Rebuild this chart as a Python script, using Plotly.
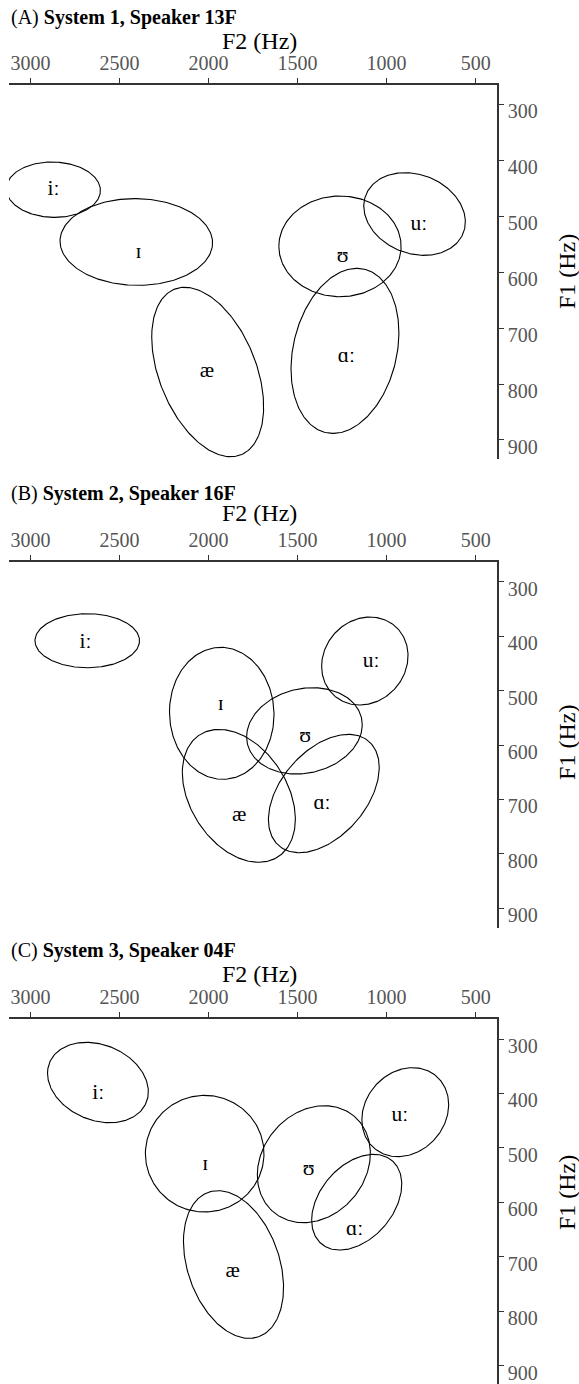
import numpy as np
import plotly.graph_objects as go

# ---------------- data ----------------
vowels = ["iː", "ɪ", "æ", "ʊ", "ɑː", "uː"]
panel_titles = ["(A) <b>System 1, Speaker 13F</b>",
                "(B) <b>System 2, Speaker 16F</b>",
                "(C) <b>System 3, Speaker 04F</b>"]
f2_ticks = [3000, 2500, 2000, 1500, 1000, 500]
f1_ticks = [300, 400, 500, 600, 700, 800, 900]

# Panel A: ellipse centre (F2, F1), half-extent in F2 / F1, correlation; label position
a_f2 = [2872, 2406, 2005, 1262, 1234, 843]
a_f1 = [452.6, 546.1, 778.5, 553.9, 740.7, 496.1]
a_sx = [264.5, 428.4, 314.3, 343.4, 302.9, 285.3]
a_sy = [49.5, 77.5, 151.4, 90.0, 147.5, 73.9]
a_rho = [-0.03, -0.02, -0.41, 0.0, 0.22, -0.19]
a_lab_f2 = [2871, 2394, 2010, 1247, 1226, 819]
a_lab_f1 = [453, 566, 777, 573, 751, 515]

# Panel B
b_f2 = [2681.5, 1926, 1830, 1461.6, 1352.7, 1122.4]
b_f1 = [408.4, 541.8, 693.4, 574.0, 689.1, 445.7]
b_sx = [293.6, 293.6, 317.4, 324.7, 311.2, 242.7]
b_sy = [49.6, 121.2, 122.1, 79.3, 108.7, 80.8]
b_rho = [0.0, -0.02, -0.35, 0.14, 0.44, 0.12]
b_lab_f2 = [2691, 1931, 1828, 1458, 1363, 1087]
b_lab_f1 = [412, 526, 729, 584, 707, 447]

# Panel C
c_f2 = [2621.4, 2021.8, 1860, 1408.7, 1168, 895.3]
c_f1 = [379.9, 510.6, 714.2, 529.9, 599.7, 434.4]
c_sx = [283.2, 333.0, 281.1, 317.4, 253.1, 243.8]
c_sy = [73.8, 107.1, 135.6, 107.4, 87.9, 81.7]
c_rho = [-0.23, 0.0, -0.31, 0.185, 0.375, 0.17]
c_lab_f2 = [2620, 2019, 1865, 1438, 1180, 925]
c_lab_f1 = [401, 531, 728, 540, 651, 440]

panels = [
    (a_f2, a_f1, a_sx, a_sy, a_rho, a_lab_f2, a_lab_f1),
    (b_f2, b_f1, b_sx, b_sy, b_rho, b_lab_f2, b_lab_f1),
    (c_f2, c_f1, c_sx, c_sy, c_rho, c_lab_f2, c_lab_f1),
]

# ---------------- layout geometry ----------------
W, H = 579, 1384
ML, MR, MT, MB = 9, 82, 85, 0
y_domains = [[0.71186, 1.0], [0.35081, 0.63280], [0.0, 0.28122]]
y_ranges = [[934.5, 265.5], [936.7, 263.8], [933.6, 262.7]]
x_range = [3121, 380]
title_y = [1.0520, 0.6859, 0.3341]
f2_title_y = [1.0339, 0.6708, 0.3160]
f1_title_y = [0.856, 0.4935, 0.147]

SERIF = "Liberation Serif"
AXC = "#333333"
TICKC = "#555555"

fig = go.Figure()
t = np.linspace(0, 2 * np.pi, 241)

for i, (f2, f1, sx, sy, rho, lf2, lf1) in enumerate(panels):
    xa = "x" if i == 0 else f"x{i+1}"
    ya = "y" if i == 0 else f"y{i+1}"
    for k in range(len(vowels)):
        r = rho[k]
        ex = f2[k] + sx[k] * np.cos(t)
        ey = f1[k] + sy[k] * (r * np.cos(t) + np.sqrt(1 - r * r) * np.sin(t))
        fig.add_trace(go.Scatter(x=ex, y=ey, mode="lines",
                                 line=dict(color="black", width=1.1),
                                 xaxis=xa, yaxis=ya, showlegend=False,
                                 hoverinfo="skip"))
    fig.add_trace(go.Scatter(x=lf2, y=lf1, mode="text", text=vowels,
                             textposition="middle center",
                             textfont=dict(family=SERIF, size=21.5, color="black"),
                             xaxis=xa, yaxis=ya, showlegend=False))

layout = dict(
    width=W, height=H,
    margin=dict(l=ML, r=MR, t=MT, b=MB),
    paper_bgcolor="white", plot_bgcolor="white",
    showlegend=False,
    font=dict(family=SERIF, color="black"),
    annotations=[],
)

for i in range(3):
    xk = "xaxis" if i == 0 else f"xaxis{i+1}"
    yk = "yaxis" if i == 0 else f"yaxis{i+1}"
    ya = "y" if i == 0 else f"y{i+1}"
    xa = "x" if i == 0 else f"x{i+1}"
    layout[xk] = dict(
        domain=[0, 1], anchor=ya, side="top", range=x_range,
        tickvals=f2_ticks, ticktext=[str(v) for v in f2_ticks],
        ticks="outside", ticklen=5, tickwidth=1.2, tickcolor=AXC,
        showline=True, linecolor=AXC, linewidth=1.5,
        showgrid=False, zeroline=False,
        tickfont=dict(family=SERIF, size=20, color=TICKC),
    )
    layout[yk] = dict(
        domain=y_domains[i], anchor=xa, side="right", range=y_ranges[i],
        tickvals=f1_ticks, ticktext=[str(v) for v in f1_ticks],
        ticks="outside", ticklen=5, tickwidth=1.2, tickcolor=AXC,
        showline=True, linecolor=AXC, linewidth=1.5,
        showgrid=False, zeroline=False,
        tickfont=dict(family=SERIF, size=20, color=TICKC),
        ticklabelshift=-7,
    )
    layout["annotations"].append(dict(
        text=panel_titles[i], xref="paper", yref="paper",
        x=0, y=title_y[i], xanchor="left", yanchor="middle",
        showarrow=False, font=dict(family=SERIF, size=20, color="black")))
    layout["annotations"].append(dict(
        text="F2 (Hz)", xref="paper", yref="paper",
        x=(259.5 - ML) / (W - ML - MR), y=f2_title_y[i],
        xanchor="center", yanchor="middle",
        showarrow=False, font=dict(family=SERIF, size=24, color="black")))
    layout["annotations"].append(dict(
        text="F1 (Hz)", xref="paper", yref="paper",
        x=(567 - ML) / (W - ML - MR), y=f1_title_y[i],
        xanchor="center", yanchor="middle", textangle=-90,
        showarrow=False, font=dict(family=SERIF, size=24, color="black")))

fig.update_layout(**layout)
fig.write_html("out.html")
